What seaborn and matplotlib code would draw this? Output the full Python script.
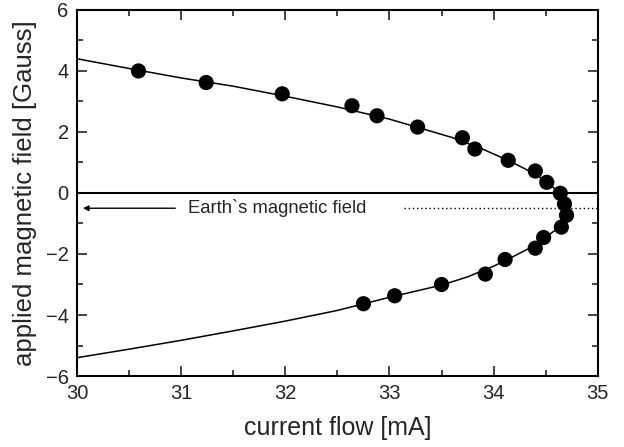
import seaborn as sns
import matplotlib.pyplot as plt
import pandas as pd

# measured points
current = [30.59, 31.24, 31.97, 32.64, 32.88, 33.27, 33.70, 33.82, 34.14, 34.40, 34.51,
           34.64, 34.68, 34.70, 34.65, 34.48, 34.40, 34.11, 33.92, 33.50, 33.05, 32.75]
field = [4.00, 3.62, 3.25, 2.86, 2.53, 2.16, 1.81, 1.44, 1.07, 0.72, 0.35,
         -0.01, -0.36, -0.73, -1.12, -1.46, -1.81, -2.18, -2.66, -3.00, -3.37, -3.63]

# fitted curve
fit_current = [30.00, 30.50, 31.00, 31.50, 32.00, 32.50, 33.00, 33.30, 33.60, 33.90, 34.15,
               34.40, 34.55, 34.65, 34.70, 34.72, 34.70, 34.64, 34.50, 34.35, 34.15, 34.00,
               33.75, 33.50, 33.00, 32.50, 32.00, 31.50, 31.00, 30.50, 30.00]
fit_field = [4.40, 4.08, 3.77, 3.50, 3.17, 2.82, 2.42, 2.12, 1.82, 1.43, 1.05,
             0.62, 0.25, -0.05, -0.30, -0.55, -0.80, -1.10, -1.45, -1.80, -2.15, -2.40,
             -2.75, -3.02, -3.42, -3.85, -4.20, -4.52, -4.83, -5.12, -5.40]

earth_field = -0.5

df = pd.DataFrame({"current": current, "field": field})
fit = pd.DataFrame({"current": fit_current, "field": fit_field})

sns.set_theme(style="ticks")
plt.rcParams['font.family'] = ['Liberation Sans', 'DejaVu Sans']

fig = plt.figure(figsize=(6.24, 4.47), dpi=100)
ax = fig.add_axes([0.1234, 0.1588, 0.8346, 0.819])

sns.lineplot(data=fit, x="current", y="field", sort=False, estimator=None,
             color="black", lw=1.1, ax=ax)
sns.scatterplot(data=df, x="current", y="field", color="black", s=120,
                edgecolor="none", ax=ax, zorder=3)

ax.axhline(0, color="black", lw=1.5)
ax.plot([33.14, 35], [earth_field, earth_field], ls=(0, (1, 2)), color="black", lw=1)
ax.annotate("", xy=(30.03, earth_field), xytext=(30.97, earth_field),
            arrowprops=dict(arrowstyle="-|>", color="black", lw=1, mutation_scale=8))
ax.text(31.07, earth_field, "Earth`s magnetic field", va="center", ha="left", fontsize=13.3)

ax.set_xlim(30, 35)
ax.set_ylim(-6, 6)
ax.set_xticks([30, 31, 32, 33, 34, 35])
ax.set_xticks([30.5, 31.5, 32.5, 33.5, 34.5], minor=True)
ax.set_yticks([-6, -4, -2, 0, 2, 4, 6])
ax.set_yticks([-5, -3, -1, 1, 3, 5], minor=True)
ax.tick_params(which="both", direction="in", top=True, right=True, labelsize=14.5, width=1.2)
ax.tick_params(which="major", length=7, pad=6)
ax.tick_params(which="minor", length=4)
for s in ax.spines.values():
    s.set_linewidth(1.5)
    s.set_color("black")

ax.set_xlabel("current flow [mA]", fontsize=18, labelpad=9)
ax.set_ylabel("applied magnetic field [Gauss]", fontsize=18.5, labelpad=6)

fig.savefig("out.png", dpi=100)
